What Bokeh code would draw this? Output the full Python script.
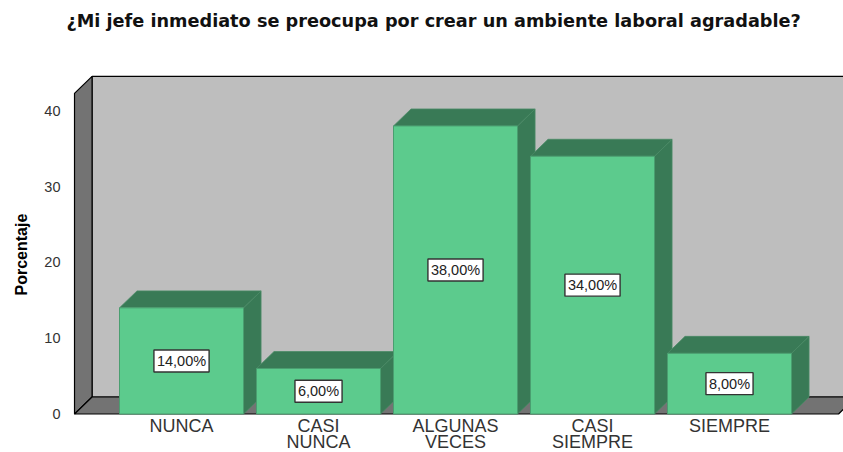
from bokeh.plotting import figure
from bokeh.models import FixedTicker, ColumnDataSource, Title, Label
from bokeh.core.properties import value
from bokeh.embed import file_html
from bokeh.resources import INLINE

categories = ["NUNCA", "CASI\nNUNCA", "ALGUNAS\nVECES", "CASI\nSIEMPRE", "SIEMPRE"]
values = [14, 6, 38, 34, 8]
labels = ["14,00%", "6,00%", "38,00%", "34,00%", "8,00%"]
y_ticks = [0, 10, 20, 30, 40]
title = "¿Mi jefe inmediato se preocupa por crear un ambiente laboral agradable?"
y_title = "Porcentaje"

half = 0.4526
dx = 0.128
dy = 2.24
wall_left = -0.781
wall_right = 4.796
wall_top = 42.3

GREEN, DARK, WALL, BACK = "#5CCB8D", "#397A56", "#737373", "#BEBEBE"

p = figure(width=843, height=452, output_backend="svg", toolbar_location=None,
           x_range=(-1.022, 4.832), y_range=(-5.08, 54.55),
           min_border_left=41, min_border_right=0, min_border_top=0, min_border_bottom=0,
           background_fill_color="white", border_fill_color="white", outline_line_color=None)

p.add_layout(Label(x=1.84, y=51.8, text=title, text_align="center", text_baseline="middle",
                   text_font="DejaVu Sans", text_font_style="bold", text_font_size="17.7px",
                   text_color="#111111"))

p.xgrid.visible = False
p.ygrid.visible = False

# walls and floor
p.patch([wall_left + dx, wall_right + dx * 2, wall_right + dx * 2, wall_left + dx],
        [dy, dy, wall_top + dy, wall_top + dy], fill_color=BACK, line_color="black", line_width=1.2)
p.patch([wall_left, wall_left + dx, wall_left + dx, wall_left],
        [0, dy, wall_top + dy, wall_top], fill_color=WALL, line_color="black", line_width=1.2)
p.patch([wall_left, wall_right, wall_right + dx, wall_left + dx],
        [0, 0, dy, dy], fill_color=WALL, line_color="black", line_width=1.2)

# bars
for i, v in enumerate(values):
    l, r = i - half, i + half
    p.patch([r, r + dx, r + dx, r], [0, dy, v + dy, v], fill_color=DARK, line_color="#4A8A66", line_width=0.8)
    p.patch([l, r, r + dx, l + dx], [v, v, v + dy, v + dy], fill_color=DARK, line_color="#4A8A66", line_width=0.8)
    p.quad(left=l, right=r, bottom=0, top=v, fill_color=GREEN, line_color="#4A9E70", line_width=1)

src = ColumnDataSource(dict(x=list(range(len(values))), y=[v / 2 for v in values], t=labels))
p.text(x="x", y="y", text="t", source=src, text_align="center", text_baseline="middle",
       text_font=value("Liberation Sans"), text_font_size="14.5px", text_color="#222222",
       background_fill_color="white", border_line_color="#333333", border_line_width=1.4,
       padding=3)

# axes
p.xaxis.fixed_location = 0
p.xaxis.ticker = FixedTicker(ticks=list(range(len(categories))))
p.xaxis.major_label_overrides = {i: c for i, c in enumerate(categories)}
p.xaxis.axis_line_color = None
p.xaxis.major_tick_line_color = None
p.xaxis.minor_tick_line_color = None
p.xaxis.major_label_standoff = -4
p.xaxis.major_label_text_font = "Liberation Sans"
p.xaxis.major_label_text_font_size = "18px"
p.xaxis.major_label_text_color = "#333333"
p.xaxis.major_label_text_line_height = 0.8

p.yaxis.fixed_location = -0.796
p.yaxis.ticker = FixedTicker(ticks=y_ticks)
p.yaxis.axis_line_color = None
p.yaxis.major_tick_line_color = None
p.yaxis.minor_tick_line_color = None
p.yaxis.major_label_standoff = 6
p.yaxis.major_label_text_font = "Liberation Sans"
p.yaxis.major_label_text_font_size = "14.5px"
p.yaxis.major_label_text_color = "#333333"

p.add_layout(Title(text=y_title, align="left", offset=157, standoff=20, vertical_align="top",
                   text_font="Liberation Sans", text_font_style="bold",
                   text_font_size="16px", text_color="black"), "left")

open("out.html", "w").write(file_html(p, INLINE))
